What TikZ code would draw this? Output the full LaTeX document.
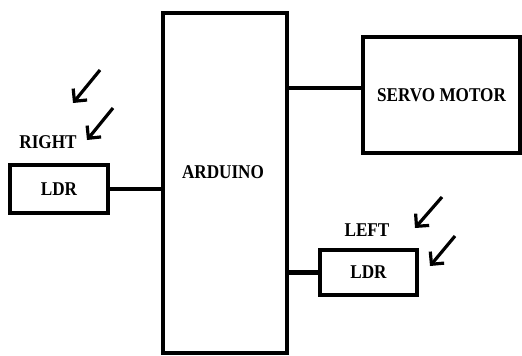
\documentclass[tikz,border=0pt]{standalone}
\usepackage{fontspec}
\setmainfont{Liberation Serif}[FakeStretch=0.88]
\usepackage{tikz}
\usetikzlibrary{arrows.meta,calc,positioning}
\tikzset{%
	block/.style = {draw, rectangle, line width=3.5pt, inner sep=0pt, text centered, font=\fontsize{19.5}{21}\selectfont\bfseries},
	tag/.style   = {inner sep=0pt, font=\fontsize{19.5}{21}\selectfont\bfseries},
	wire/.style  = {line width=4.5pt},
	ray/.style   = {line width=3.2pt, -{Straight Barb[length=9pt,width=18pt,line width=3.2pt]}},
}

\begin{document}
\begin{tikzpicture}[x=1pt,y=-1pt]
	\useasboundingbox (0,0) rectangle (522,356);
	
	\node[block, minimum width=124pt, minimum height=340pt] (arduino) at (225,183) {};
	\node[tag] (arduinotext) at (223,172) {ARDUINO};
	\node[block, minimum width=157pt, minimum height=116pt] (servo) at (441.5,95) {SERVO MOTOR};
	\node[block, minimum width=98pt, minimum height=48pt] (ldrR) at (59,189) {LDR};
	\node[block, minimum width=97pt, minimum height=45pt] (ldrL) at (368.5,272.5) {LDR};
	
	\node[tag] (right) at (48,142) {RIGHT};
	\node[tag] (left) at (367,230) {LEFT};
	
	\draw[wire] (ldrR.east) -- (ldrR.east -| arduino.west);
	\draw[wire] ([yshift=7pt]servo.west) -- ([yshift=7pt]servo.west -| arduino.east);
	\draw[wire] (ldrL.west) -- (ldrL.west -| arduino.east);
	
	\draw[ray] (100,70) -- (73,103);
	\draw[ray] (113,108) -- (87,140);
	\draw[ray] (442,197) -- (415,228);
	\draw[ray] (455,236) -- (430,266);
\end{tikzpicture}
\end{document}
